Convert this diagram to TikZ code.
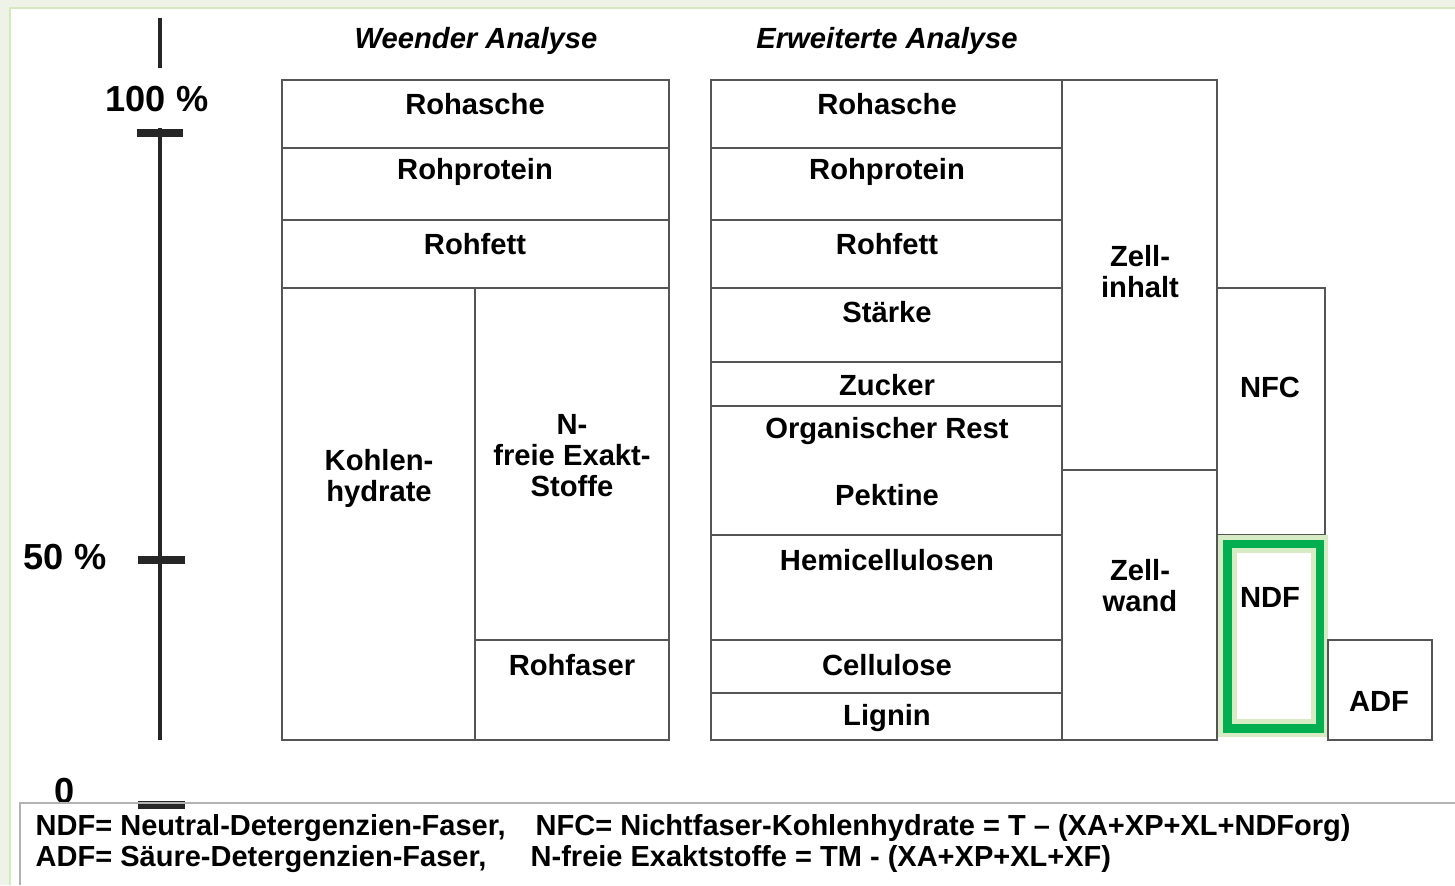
\documentclass[tikz,border=0pt]{standalone}
\usepackage{fontspec}
\setmainfont{Liberation Sans}
\definecolor{framebg}{HTML}{EFF3E7}
\definecolor{frameline}{HTML}{D4E9BF}
\definecolor{boxgray}{HTML}{555555}
\definecolor{ndfgreen}{HTML}{00B050}
\definecolor{ndflight}{HTML}{D7EBC5}
\tikzset{
  cell/.style={draw=boxgray, line width=0.7pt},
  lbl/.style={font=\fontsize{8.3}{8.8}\selectfont\bfseries, align=center, inner sep=0pt},
  ttl/.style={font=\fontsize{8.3}{10}\selectfont\bfseries\itshape, inner sep=0pt},
  scl/.style={font=\fontsize{10.3}{12}\selectfont\bfseries, inner sep=0pt},
  note/.style={font=\fontsize{8.25}{10}\selectfont\bfseries, anchor=west, inner sep=0pt},
  axis line/.style={line width=1.1pt, black!85},
  axis tick/.style={line width=2pt, black!85}
}

\begin{document}
\begin{tikzpicture}[x=0.01cm, y=-0.01cm]

% frame and background
\useasboundingbox (0,0) rectangle (1455,885);
\fill[framebg] (0,0) rectangle (1455,885);
\fill[white] (10,8) rectangle (1455,885);
\draw[frameline, line width=0.6pt] (10,885) -- (10,8) -- (1455,8);

% scale
\draw[axis line] (160,18) -- (160,68);
\draw[axis line] (160,128) -- (160,740);
\draw[axis tick] (137,133) -- (183,133);
\draw[axis tick] (138,560) -- (185,560);
\draw[axis tick] (138,805) -- (185,805);
\node[scl] (pct100) at (157,99) {100 \%};
\node[scl] (pct50) at (65,557) {50 \%};
\node[scl] (pct0) at (65,791) {0};

% titles
\node[ttl] (wtitle) at (476,41) {Weender Analyse};
\node[ttl] (etitle) at (887,41) {Erweiterte Analyse};

% Weender Analyse
\draw[cell] (282,80) rectangle (669,740);
\draw[cell] (282,148) -- (669,148);
\draw[cell] (282,220) -- (669,220);
\draw[cell] (282,288) -- (669,288);
\draw[cell] (475,288) -- (475,740);
\draw[cell] (475,640) -- (669,640);
\node[lbl] (wrohasche) at (475,104) {Rohasche};
\node[lbl] (wrohprotein) at (475,172) {Rohprotein};
\node[lbl] (wrohfett) at (475,244) {Rohfett};
\node[lbl] (wkohlen) at (379,478) {Kohlen-\\hydrate};
\node[lbl] (wnfe) at (572,456) {N-\\freie Exakt-\\Stoffe};
\node[lbl] (wrohfaser) at (572,665) {Rohfaser};

% Erweiterte Analyse
\draw[cell] (711,80) rectangle (1062,740);
\draw[cell] (711,148) -- (1062,148);
\draw[cell] (711,220) -- (1062,220);
\draw[cell] (711,288) -- (1062,288);
\draw[cell] (711,362) -- (1062,362);
\draw[cell] (711,406) -- (1062,406);
\draw[cell] (711,535) -- (1062,535);
\draw[cell] (711,640) -- (1062,640);
\draw[cell] (711,693) -- (1062,693);
\node[lbl] (erohasche) at (887,104) {Rohasche};
\node[lbl] (erohprotein) at (887,172) {Rohprotein};
\node[lbl] (erohfett) at (887,244) {Rohfett};
\node[lbl] (estaerke) at (887,312) {Stärke};
\node[lbl] (ezucker) at (887,385) {Zucker};
\node[lbl] (eorgrest) at (887,431) {Organischer Rest};
\node[lbl] (epektine) at (887,495) {Pektine};
\node[lbl] (ehemi) at (887,560) {Hemicellulosen};
\node[lbl] (ecellulose) at (887,665) {Cellulose};
\node[lbl] (elignin) at (887,718) {Lignin};

% Zellinhalt / Zellwand
\draw[cell] (1062,80) rectangle (1217,740);
\draw[cell] (1062,470) -- (1217,470);
\node[lbl] (zinhalt) at (1140,272) {Zell-\\inhalt};
\node[lbl] (zwand) at (1140,586) {Zell-\\wand};

% NFC, NDF, ADF
\draw[cell] (1217,288) rectangle (1325,535);
\node[lbl] (nfc) at (1270,387) {NFC};
\fill[ndflight] (1218,535) rectangle (1328,737);
\draw[ndfgreen, line width=0.085cm] (1227.5,544) rectangle (1320,728.5);
\fill[white] (1237,553) rectangle (1311,719);
\node[lbl] (ndf) at (1270,597) {NDF};
\draw[cell] (1328,640) rectangle (1432,740);
\node[lbl] (adf) at (1379,701) {ADF};

% legend
\draw[gray!60, line width=0.6pt] (20,885) -- (20,803) -- (1455,803);
\node[note] (ndfnote) at (35,828) {NDF= Neutral-Detergenzien-Faser,};
\node[note] (nfcnote) at (535,828) {NFC= Nichtfaser-Kohlenhydrate = T – (XA+XP+XL+NDForg)};
\node[note] (adfnote) at (35,859) {ADF= Säure-Detergenzien-Faser,};
\node[note] (nfenote) at (530,859) {N-freie Exaktstoffe = TM - (XA+XP+XL+XF)};
\end{tikzpicture}
\end{document}
